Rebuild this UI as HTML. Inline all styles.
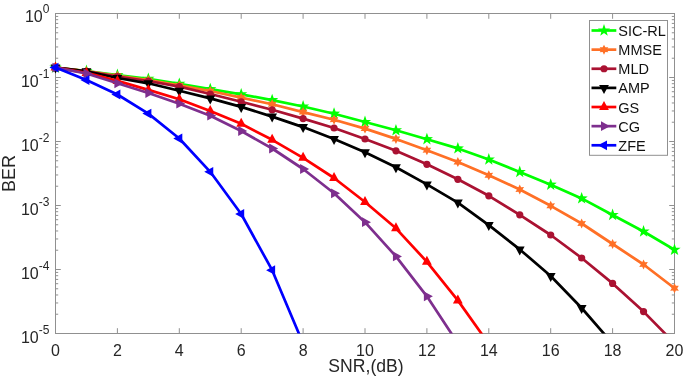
<!DOCTYPE html><html><head><meta charset="utf-8"><style>html,body{margin:0;padding:0;background:#fff;}svg{display:block;will-change:transform;}text{font-family:"Liberation Sans",sans-serif;fill:#262626;}</style></head><body>
<svg width="685" height="377" viewBox="0 0 685 377">
<defs><clipPath id="c"><rect x="55.5" y="13.5" width="619.0" height="320.0"/></clipPath></defs>
<rect width="685" height="377" fill="#fff"/>
<path d="M55.50 333.50V328.20M55.50 13.50V18.80M117.40 333.50V328.20M117.40 13.50V18.80M179.30 333.50V328.20M179.30 13.50V18.80M241.20 333.50V328.20M241.20 13.50V18.80M303.10 333.50V328.20M303.10 13.50V18.80M365.00 333.50V328.20M365.00 13.50V18.80M426.90 333.50V328.20M426.90 13.50V18.80M488.80 333.50V328.20M488.80 13.50V18.80M550.70 333.50V328.20M550.70 13.50V18.80M612.60 333.50V328.20M612.60 13.50V18.80M674.50 333.50V328.20M674.50 13.50V18.80M55.50 13.50H60.80M674.50 13.50H669.20M55.50 77.50H60.80M674.50 77.50H669.20M55.50 141.50H60.80M674.50 141.50H669.20M55.50 205.50H60.80M674.50 205.50H669.20M55.50 269.50H60.80M674.50 269.50H669.20M55.50 333.50H60.80M674.50 333.50H669.20M55.50 58.23H58.20M674.50 58.23H671.80M55.50 46.96H58.20M674.50 46.96H671.80M55.50 38.97H58.20M674.50 38.97H671.80M55.50 32.77H58.20M674.50 32.77H671.80M55.50 27.70H58.20M674.50 27.70H671.80M55.50 23.41H58.20M674.50 23.41H671.80M55.50 19.70H58.20M674.50 19.70H671.80M55.50 16.43H58.20M674.50 16.43H671.80M55.50 122.23H58.20M674.50 122.23H671.80M55.50 110.96H58.20M674.50 110.96H671.80M55.50 102.97H58.20M674.50 102.97H671.80M55.50 96.77H58.20M674.50 96.77H671.80M55.50 91.70H58.20M674.50 91.70H671.80M55.50 87.41H58.20M674.50 87.41H671.80M55.50 83.70H58.20M674.50 83.70H671.80M55.50 80.43H58.20M674.50 80.43H671.80M55.50 186.23H58.20M674.50 186.23H671.80M55.50 174.96H58.20M674.50 174.96H671.80M55.50 166.97H58.20M674.50 166.97H671.80M55.50 160.77H58.20M674.50 160.77H671.80M55.50 155.70H58.20M674.50 155.70H671.80M55.50 151.41H58.20M674.50 151.41H671.80M55.50 147.70H58.20M674.50 147.70H671.80M55.50 144.43H58.20M674.50 144.43H671.80M55.50 250.23H58.20M674.50 250.23H671.80M55.50 238.96H58.20M674.50 238.96H671.80M55.50 230.97H58.20M674.50 230.97H671.80M55.50 224.77H58.20M674.50 224.77H671.80M55.50 219.70H58.20M674.50 219.70H671.80M55.50 215.41H58.20M674.50 215.41H671.80M55.50 211.70H58.20M674.50 211.70H671.80M55.50 208.43H58.20M674.50 208.43H671.80M55.50 314.23H58.20M674.50 314.23H671.80M55.50 302.96H58.20M674.50 302.96H671.80M55.50 294.97H58.20M674.50 294.97H671.80M55.50 288.77H58.20M674.50 288.77H671.80M55.50 283.70H58.20M674.50 283.70H671.80M55.50 279.41H58.20M674.50 279.41H671.80M55.50 275.70H58.20M674.50 275.70H671.80M55.50 272.43H58.20M674.50 272.43H671.80" stroke="#909090" stroke-width="1" fill="none"/>
<rect x="55.5" y="13.5" width="619.0" height="320.0" stroke="#909090" stroke-width="1" fill="none"/>
<text x="55.50" y="356" font-size="16" text-anchor="middle">0</text>
<text x="117.40" y="356" font-size="16" text-anchor="middle">2</text>
<text x="179.30" y="356" font-size="16" text-anchor="middle">4</text>
<text x="241.20" y="356" font-size="16" text-anchor="middle">6</text>
<text x="303.10" y="356" font-size="16" text-anchor="middle">8</text>
<text x="365.00" y="356" font-size="16" text-anchor="middle">10</text>
<text x="426.90" y="356" font-size="16" text-anchor="middle">12</text>
<text x="488.80" y="356" font-size="16" text-anchor="middle">14</text>
<text x="550.70" y="356" font-size="16" text-anchor="middle">16</text>
<text x="612.60" y="356" font-size="16" text-anchor="middle">18</text>
<text x="674.50" y="356" font-size="16" text-anchor="middle">20</text>
<text x="49.4" y="21.70" font-size="16" text-anchor="end">10<tspan font-size="12" dy="-8.7">0</tspan></text>
<text x="49.4" y="86.50" font-size="16" text-anchor="end">10<tspan font-size="12" dy="-8.7">-1</tspan></text>
<text x="49.4" y="150.50" font-size="16" text-anchor="end">10<tspan font-size="12" dy="-8.7">-2</tspan></text>
<text x="49.4" y="214.50" font-size="16" text-anchor="end">10<tspan font-size="12" dy="-8.7">-3</tspan></text>
<text x="49.4" y="278.50" font-size="16" text-anchor="end">10<tspan font-size="12" dy="-8.7">-4</tspan></text>
<text x="49.4" y="342.50" font-size="16" text-anchor="end">10<tspan font-size="12" dy="-8.7">-5</tspan></text>
<text x="366" y="372" font-size="17.6" text-anchor="middle">SNR,(dB)</text>
<text transform="translate(15.3,173.6) rotate(-90)" font-size="18" text-anchor="middle">BER</text>
<polyline clip-path="url(#c)" points="55.50,67.60 86.45,71.00 117.40,75.00 148.35,78.80 179.30,83.80 210.25,89.20 241.20,94.30 272.15,100.10 303.10,106.50 334.05,113.70 365.00,122.00 395.95,130.30 426.90,139.20 457.85,148.40 488.80,159.50 519.75,172.00 550.70,184.70 581.65,198.40 612.60,215.00 643.55,231.50 674.50,249.80" fill="none" stroke="#00ff00" stroke-width="2.7" stroke-linejoin="round"/>
<polygon points="55.50,61.20 57.03,65.50 61.59,65.62 57.97,68.40 59.26,72.78 55.50,70.20 51.74,72.78 53.03,68.40 49.41,65.62 53.97,65.50" fill="#00ff00"/>
<polygon points="86.45,64.60 87.98,68.90 92.54,69.02 88.92,71.80 90.21,76.18 86.45,73.60 82.69,76.18 83.98,71.80 80.36,69.02 84.92,68.90" fill="#00ff00"/>
<polygon points="117.40,68.60 118.93,72.90 123.49,73.02 119.87,75.80 121.16,80.18 117.40,77.60 113.64,80.18 114.93,75.80 111.31,73.02 115.87,72.90" fill="#00ff00"/>
<polygon points="148.35,72.40 149.88,76.70 154.44,76.82 150.82,79.60 152.11,83.98 148.35,81.40 144.59,83.98 145.88,79.60 142.26,76.82 146.82,76.70" fill="#00ff00"/>
<polygon points="179.30,77.40 180.83,81.70 185.39,81.82 181.77,84.60 183.06,88.98 179.30,86.40 175.54,88.98 176.83,84.60 173.21,81.82 177.77,81.70" fill="#00ff00"/>
<polygon points="210.25,82.80 211.78,87.10 216.34,87.22 212.72,90.00 214.01,94.38 210.25,91.80 206.49,94.38 207.78,90.00 204.16,87.22 208.72,87.10" fill="#00ff00"/>
<polygon points="241.20,87.90 242.73,92.20 247.29,92.32 243.67,95.10 244.96,99.48 241.20,96.90 237.44,99.48 238.73,95.10 235.11,92.32 239.67,92.20" fill="#00ff00"/>
<polygon points="272.15,93.70 273.68,98.00 278.24,98.12 274.62,100.90 275.91,105.28 272.15,102.70 268.39,105.28 269.68,100.90 266.06,98.12 270.62,98.00" fill="#00ff00"/>
<polygon points="303.10,100.10 304.63,104.40 309.19,104.52 305.57,107.30 306.86,111.68 303.10,109.10 299.34,111.68 300.63,107.30 297.01,104.52 301.57,104.40" fill="#00ff00"/>
<polygon points="334.05,107.30 335.58,111.60 340.14,111.72 336.52,114.50 337.81,118.88 334.05,116.30 330.29,118.88 331.58,114.50 327.96,111.72 332.52,111.60" fill="#00ff00"/>
<polygon points="365.00,115.60 366.53,119.90 371.09,120.02 367.47,122.80 368.76,127.18 365.00,124.60 361.24,127.18 362.53,122.80 358.91,120.02 363.47,119.90" fill="#00ff00"/>
<polygon points="395.95,123.90 397.48,128.20 402.04,128.32 398.42,131.10 399.71,135.48 395.95,132.90 392.19,135.48 393.48,131.10 389.86,128.32 394.42,128.20" fill="#00ff00"/>
<polygon points="426.90,132.80 428.43,137.10 432.99,137.22 429.37,140.00 430.66,144.38 426.90,141.80 423.14,144.38 424.43,140.00 420.81,137.22 425.37,137.10" fill="#00ff00"/>
<polygon points="457.85,142.00 459.38,146.30 463.94,146.42 460.32,149.20 461.61,153.58 457.85,151.00 454.09,153.58 455.38,149.20 451.76,146.42 456.32,146.30" fill="#00ff00"/>
<polygon points="488.80,153.10 490.33,157.40 494.89,157.52 491.27,160.30 492.56,164.68 488.80,162.10 485.04,164.68 486.33,160.30 482.71,157.52 487.27,157.40" fill="#00ff00"/>
<polygon points="519.75,165.60 521.28,169.90 525.84,170.02 522.22,172.80 523.51,177.18 519.75,174.60 515.99,177.18 517.28,172.80 513.66,170.02 518.22,169.90" fill="#00ff00"/>
<polygon points="550.70,178.30 552.23,182.60 556.79,182.72 553.17,185.50 554.46,189.88 550.70,187.30 546.94,189.88 548.23,185.50 544.61,182.72 549.17,182.60" fill="#00ff00"/>
<polygon points="581.65,192.00 583.18,196.30 587.74,196.42 584.12,199.20 585.41,203.58 581.65,201.00 577.89,203.58 579.18,199.20 575.56,196.42 580.12,196.30" fill="#00ff00"/>
<polygon points="612.60,208.60 614.13,212.90 618.69,213.02 615.07,215.80 616.36,220.18 612.60,217.60 608.84,220.18 610.13,215.80 606.51,213.02 611.07,212.90" fill="#00ff00"/>
<polygon points="643.55,225.10 645.08,229.40 649.64,229.52 646.02,232.30 647.31,236.68 643.55,234.10 639.79,236.68 641.08,232.30 637.46,229.52 642.02,229.40" fill="#00ff00"/>
<polygon points="674.50,243.40 676.03,247.70 680.59,247.82 676.97,250.60 678.26,254.98 674.50,252.40 670.74,254.98 672.03,250.60 668.41,247.82 672.97,247.70" fill="#00ff00"/>
<polyline clip-path="url(#c)" points="55.50,67.60 86.45,71.20 117.40,75.80 148.35,80.00 179.30,85.30 210.25,91.00 241.20,97.60 272.15,104.20 303.10,112.10 334.05,119.70 365.00,128.60 395.95,138.90 426.90,150.20 457.85,162.10 488.80,175.30 519.75,189.50 550.70,205.80 581.65,223.50 612.60,244.00 643.55,264.50 674.50,288.20" fill="none" stroke="#ff7026" stroke-width="2.7" stroke-linejoin="round"/>
<polygon points="55.50,62.60 56.85,65.26 59.83,65.10 58.20,67.60 59.83,70.10 56.85,69.94 55.50,72.60 54.15,69.94 51.17,70.10 52.80,67.60 51.17,65.10 54.15,65.26" fill="#ff7026"/>
<polygon points="86.45,66.20 87.80,68.86 90.78,68.70 89.15,71.20 90.78,73.70 87.80,73.54 86.45,76.20 85.10,73.54 82.12,73.70 83.75,71.20 82.12,68.70 85.10,68.86" fill="#ff7026"/>
<polygon points="117.40,70.80 118.75,73.46 121.73,73.30 120.10,75.80 121.73,78.30 118.75,78.14 117.40,80.80 116.05,78.14 113.07,78.30 114.70,75.80 113.07,73.30 116.05,73.46" fill="#ff7026"/>
<polygon points="148.35,75.00 149.70,77.66 152.68,77.50 151.05,80.00 152.68,82.50 149.70,82.34 148.35,85.00 147.00,82.34 144.02,82.50 145.65,80.00 144.02,77.50 147.00,77.66" fill="#ff7026"/>
<polygon points="179.30,80.30 180.65,82.96 183.63,82.80 182.00,85.30 183.63,87.80 180.65,87.64 179.30,90.30 177.95,87.64 174.97,87.80 176.60,85.30 174.97,82.80 177.95,82.96" fill="#ff7026"/>
<polygon points="210.25,86.00 211.60,88.66 214.58,88.50 212.95,91.00 214.58,93.50 211.60,93.34 210.25,96.00 208.90,93.34 205.92,93.50 207.55,91.00 205.92,88.50 208.90,88.66" fill="#ff7026"/>
<polygon points="241.20,92.60 242.55,95.26 245.53,95.10 243.90,97.60 245.53,100.10 242.55,99.94 241.20,102.60 239.85,99.94 236.87,100.10 238.50,97.60 236.87,95.10 239.85,95.26" fill="#ff7026"/>
<polygon points="272.15,99.20 273.50,101.86 276.48,101.70 274.85,104.20 276.48,106.70 273.50,106.54 272.15,109.20 270.80,106.54 267.82,106.70 269.45,104.20 267.82,101.70 270.80,101.86" fill="#ff7026"/>
<polygon points="303.10,107.10 304.45,109.76 307.43,109.60 305.80,112.10 307.43,114.60 304.45,114.44 303.10,117.10 301.75,114.44 298.77,114.60 300.40,112.10 298.77,109.60 301.75,109.76" fill="#ff7026"/>
<polygon points="334.05,114.70 335.40,117.36 338.38,117.20 336.75,119.70 338.38,122.20 335.40,122.04 334.05,124.70 332.70,122.04 329.72,122.20 331.35,119.70 329.72,117.20 332.70,117.36" fill="#ff7026"/>
<polygon points="365.00,123.60 366.35,126.26 369.33,126.10 367.70,128.60 369.33,131.10 366.35,130.94 365.00,133.60 363.65,130.94 360.67,131.10 362.30,128.60 360.67,126.10 363.65,126.26" fill="#ff7026"/>
<polygon points="395.95,133.90 397.30,136.56 400.28,136.40 398.65,138.90 400.28,141.40 397.30,141.24 395.95,143.90 394.60,141.24 391.62,141.40 393.25,138.90 391.62,136.40 394.60,136.56" fill="#ff7026"/>
<polygon points="426.90,145.20 428.25,147.86 431.23,147.70 429.60,150.20 431.23,152.70 428.25,152.54 426.90,155.20 425.55,152.54 422.57,152.70 424.20,150.20 422.57,147.70 425.55,147.86" fill="#ff7026"/>
<polygon points="457.85,157.10 459.20,159.76 462.18,159.60 460.55,162.10 462.18,164.60 459.20,164.44 457.85,167.10 456.50,164.44 453.52,164.60 455.15,162.10 453.52,159.60 456.50,159.76" fill="#ff7026"/>
<polygon points="488.80,170.30 490.15,172.96 493.13,172.80 491.50,175.30 493.13,177.80 490.15,177.64 488.80,180.30 487.45,177.64 484.47,177.80 486.10,175.30 484.47,172.80 487.45,172.96" fill="#ff7026"/>
<polygon points="519.75,184.50 521.10,187.16 524.08,187.00 522.45,189.50 524.08,192.00 521.10,191.84 519.75,194.50 518.40,191.84 515.42,192.00 517.05,189.50 515.42,187.00 518.40,187.16" fill="#ff7026"/>
<polygon points="550.70,200.80 552.05,203.46 555.03,203.30 553.40,205.80 555.03,208.30 552.05,208.14 550.70,210.80 549.35,208.14 546.37,208.30 548.00,205.80 546.37,203.30 549.35,203.46" fill="#ff7026"/>
<polygon points="581.65,218.50 583.00,221.16 585.98,221.00 584.35,223.50 585.98,226.00 583.00,225.84 581.65,228.50 580.30,225.84 577.32,226.00 578.95,223.50 577.32,221.00 580.30,221.16" fill="#ff7026"/>
<polygon points="612.60,239.00 613.95,241.66 616.93,241.50 615.30,244.00 616.93,246.50 613.95,246.34 612.60,249.00 611.25,246.34 608.27,246.50 609.90,244.00 608.27,241.50 611.25,241.66" fill="#ff7026"/>
<polygon points="643.55,259.50 644.90,262.16 647.88,262.00 646.25,264.50 647.88,267.00 644.90,266.84 643.55,269.50 642.20,266.84 639.22,267.00 640.85,264.50 639.22,262.00 642.20,262.16" fill="#ff7026"/>
<polygon points="674.50,283.20 675.85,285.86 678.83,285.70 677.20,288.20 678.83,290.70 675.85,290.54 674.50,293.20 673.15,290.54 670.17,290.70 671.80,288.20 670.17,285.70 673.15,285.86" fill="#ff7026"/>
<polyline clip-path="url(#c)" points="55.50,67.60 86.45,71.40 117.40,76.50 148.35,81.00 179.30,86.60 210.25,94.00 241.20,101.80 272.15,109.80 303.10,118.60 334.05,128.00 365.00,139.00 395.95,150.80 426.90,164.30 457.85,179.30 488.80,195.80 519.75,214.80 550.70,235.00 581.65,258.00 612.60,283.40 643.55,311.60 674.50,343.20" fill="none" stroke="#aa1232" stroke-width="2.7" stroke-linejoin="round"/>
<circle cx="55.50" cy="67.60" r="3.6" fill="#aa1232"/>
<circle cx="86.45" cy="71.40" r="3.6" fill="#aa1232"/>
<circle cx="117.40" cy="76.50" r="3.6" fill="#aa1232"/>
<circle cx="148.35" cy="81.00" r="3.6" fill="#aa1232"/>
<circle cx="179.30" cy="86.60" r="3.6" fill="#aa1232"/>
<circle cx="210.25" cy="94.00" r="3.6" fill="#aa1232"/>
<circle cx="241.20" cy="101.80" r="3.6" fill="#aa1232"/>
<circle cx="272.15" cy="109.80" r="3.6" fill="#aa1232"/>
<circle cx="303.10" cy="118.60" r="3.6" fill="#aa1232"/>
<circle cx="334.05" cy="128.00" r="3.6" fill="#aa1232"/>
<circle cx="365.00" cy="139.00" r="3.6" fill="#aa1232"/>
<circle cx="395.95" cy="150.80" r="3.6" fill="#aa1232"/>
<circle cx="426.90" cy="164.30" r="3.6" fill="#aa1232"/>
<circle cx="457.85" cy="179.30" r="3.6" fill="#aa1232"/>
<circle cx="488.80" cy="195.80" r="3.6" fill="#aa1232"/>
<circle cx="519.75" cy="214.80" r="3.6" fill="#aa1232"/>
<circle cx="550.70" cy="235.00" r="3.6" fill="#aa1232"/>
<circle cx="581.65" cy="258.00" r="3.6" fill="#aa1232"/>
<circle cx="612.60" cy="283.40" r="3.6" fill="#aa1232"/>
<circle cx="643.55" cy="311.60" r="3.6" fill="#aa1232"/>
<polyline clip-path="url(#c)" points="55.50,67.60 86.45,71.30 117.40,78.00 148.35,83.30 179.30,90.80 210.25,98.40 241.20,106.90 272.15,116.60 303.10,127.10 334.05,139.00 365.00,152.20 395.95,167.20 426.90,184.40 457.85,202.60 488.80,225.10 519.75,249.40 550.70,276.00 581.65,308.00 612.60,343.60" fill="none" stroke="#000000" stroke-width="2.7" stroke-linejoin="round"/>
<polygon points="50.60,64.60 60.40,64.60 55.50,73.60" fill="#000000"/>
<polygon points="81.55,68.30 91.35,68.30 86.45,77.30" fill="#000000"/>
<polygon points="112.50,75.00 122.30,75.00 117.40,84.00" fill="#000000"/>
<polygon points="143.45,80.30 153.25,80.30 148.35,89.30" fill="#000000"/>
<polygon points="174.40,87.80 184.20,87.80 179.30,96.80" fill="#000000"/>
<polygon points="205.35,95.40 215.15,95.40 210.25,104.40" fill="#000000"/>
<polygon points="236.30,103.90 246.10,103.90 241.20,112.90" fill="#000000"/>
<polygon points="267.25,113.60 277.05,113.60 272.15,122.60" fill="#000000"/>
<polygon points="298.20,124.10 308.00,124.10 303.10,133.10" fill="#000000"/>
<polygon points="329.15,136.00 338.95,136.00 334.05,145.00" fill="#000000"/>
<polygon points="360.10,149.20 369.90,149.20 365.00,158.20" fill="#000000"/>
<polygon points="391.05,164.20 400.85,164.20 395.95,173.20" fill="#000000"/>
<polygon points="422.00,181.40 431.80,181.40 426.90,190.40" fill="#000000"/>
<polygon points="452.95,199.60 462.75,199.60 457.85,208.60" fill="#000000"/>
<polygon points="483.90,222.10 493.70,222.10 488.80,231.10" fill="#000000"/>
<polygon points="514.85,246.40 524.65,246.40 519.75,255.40" fill="#000000"/>
<polygon points="545.80,273.00 555.60,273.00 550.70,282.00" fill="#000000"/>
<polygon points="576.75,305.00 586.55,305.00 581.65,314.00" fill="#000000"/>
<polyline clip-path="url(#c)" points="55.50,67.60 86.45,72.90 117.40,80.90 148.35,89.90 179.30,99.20 210.25,111.10 241.20,123.80 272.15,139.80 303.10,157.80 334.05,178.00 365.00,202.00 395.95,228.30 426.90,261.80 457.85,300.40 488.80,343.90" fill="none" stroke="#ff0000" stroke-width="2.7" stroke-linejoin="round"/>
<polygon points="50.60,70.60 60.40,70.60 55.50,61.60" fill="#ff0000"/>
<polygon points="81.55,75.90 91.35,75.90 86.45,66.90" fill="#ff0000"/>
<polygon points="112.50,83.90 122.30,83.90 117.40,74.90" fill="#ff0000"/>
<polygon points="143.45,92.90 153.25,92.90 148.35,83.90" fill="#ff0000"/>
<polygon points="174.40,102.20 184.20,102.20 179.30,93.20" fill="#ff0000"/>
<polygon points="205.35,114.10 215.15,114.10 210.25,105.10" fill="#ff0000"/>
<polygon points="236.30,126.80 246.10,126.80 241.20,117.80" fill="#ff0000"/>
<polygon points="267.25,142.80 277.05,142.80 272.15,133.80" fill="#ff0000"/>
<polygon points="298.20,160.80 308.00,160.80 303.10,151.80" fill="#ff0000"/>
<polygon points="329.15,181.00 338.95,181.00 334.05,172.00" fill="#ff0000"/>
<polygon points="360.10,205.00 369.90,205.00 365.00,196.00" fill="#ff0000"/>
<polygon points="391.05,231.30 400.85,231.30 395.95,222.30" fill="#ff0000"/>
<polygon points="422.00,264.80 431.80,264.80 426.90,255.80" fill="#ff0000"/>
<polygon points="452.95,303.40 462.75,303.40 457.85,294.40" fill="#ff0000"/>
<polyline clip-path="url(#c)" points="55.50,67.60 86.45,73.50 117.40,83.30 148.35,93.00 179.30,103.70 210.25,115.70 241.20,131.00 272.15,148.50 303.10,169.00 334.05,193.30 365.00,222.20 395.95,256.40 426.90,296.30 457.85,343.30" fill="none" stroke="#7e2f8e" stroke-width="2.7" stroke-linejoin="round"/>
<polygon points="52.50,62.70 52.50,72.50 61.50,67.60" fill="#7e2f8e"/>
<polygon points="83.45,68.60 83.45,78.40 92.45,73.50" fill="#7e2f8e"/>
<polygon points="114.40,78.40 114.40,88.20 123.40,83.30" fill="#7e2f8e"/>
<polygon points="145.35,88.10 145.35,97.90 154.35,93.00" fill="#7e2f8e"/>
<polygon points="176.30,98.80 176.30,108.60 185.30,103.70" fill="#7e2f8e"/>
<polygon points="207.25,110.80 207.25,120.60 216.25,115.70" fill="#7e2f8e"/>
<polygon points="238.20,126.10 238.20,135.90 247.20,131.00" fill="#7e2f8e"/>
<polygon points="269.15,143.60 269.15,153.40 278.15,148.50" fill="#7e2f8e"/>
<polygon points="300.10,164.10 300.10,173.90 309.10,169.00" fill="#7e2f8e"/>
<polygon points="331.05,188.40 331.05,198.20 340.05,193.30" fill="#7e2f8e"/>
<polygon points="362.00,217.30 362.00,227.10 371.00,222.20" fill="#7e2f8e"/>
<polygon points="392.95,251.50 392.95,261.30 401.95,256.40" fill="#7e2f8e"/>
<polygon points="423.90,291.40 423.90,301.20 432.90,296.30" fill="#7e2f8e"/>
<polyline clip-path="url(#c)" points="55.50,67.60 86.45,80.00 117.40,94.50 148.35,113.60 179.30,138.50 210.25,171.80 241.20,214.00 272.15,270.20 303.10,343.50" fill="none" stroke="#0000ff" stroke-width="2.7" stroke-linejoin="round"/>
<polygon points="58.50,62.70 58.50,72.50 49.50,67.60" fill="#0000ff"/>
<polygon points="89.45,75.10 89.45,84.90 80.45,80.00" fill="#0000ff"/>
<polygon points="120.40,89.60 120.40,99.40 111.40,94.50" fill="#0000ff"/>
<polygon points="151.35,108.70 151.35,118.50 142.35,113.60" fill="#0000ff"/>
<polygon points="182.30,133.60 182.30,143.40 173.30,138.50" fill="#0000ff"/>
<polygon points="213.25,166.90 213.25,176.70 204.25,171.80" fill="#0000ff"/>
<polygon points="244.20,209.10 244.20,218.90 235.20,214.00" fill="#0000ff"/>
<polygon points="275.15,265.30 275.15,275.10 266.15,270.20" fill="#0000ff"/>
<rect x="589.5" y="20.5" width="78.0" height="134.8" fill="#fff" stroke="#909090" stroke-width="1"/>
<line x1="591.5" y1="30.50" x2="616.3" y2="30.50" stroke="#00ff00" stroke-width="2.7"/>
<polygon points="604.00,24.10 605.53,28.40 610.09,28.52 606.47,31.30 607.76,35.68 604.00,33.10 600.24,35.68 601.53,31.30 597.91,28.52 602.47,28.40" fill="#00ff00"/>
<text x="618.3" y="36.10" font-size="14.5" style="fill:#111">SIC-RL</text>
<line x1="591.5" y1="49.63" x2="616.3" y2="49.63" stroke="#ff7026" stroke-width="2.7"/>
<polygon points="604.00,44.63 605.35,47.29 608.33,47.13 606.70,49.63 608.33,52.13 605.35,51.97 604.00,54.63 602.65,51.97 599.67,52.13 601.30,49.63 599.67,47.13 602.65,47.29" fill="#ff7026"/>
<text x="618.3" y="55.23" font-size="14.5" style="fill:#111">MMSE</text>
<line x1="591.5" y1="68.76" x2="616.3" y2="68.76" stroke="#aa1232" stroke-width="2.7"/>
<circle cx="604.00" cy="68.76" r="3.6" fill="#aa1232"/>
<text x="618.3" y="74.36" font-size="14.5" style="fill:#111">MLD</text>
<line x1="591.5" y1="87.89" x2="616.3" y2="87.89" stroke="#000000" stroke-width="2.7"/>
<polygon points="599.10,84.89 608.90,84.89 604.00,93.89" fill="#000000"/>
<text x="618.3" y="93.49" font-size="14.5" style="fill:#111">AMP</text>
<line x1="591.5" y1="107.02" x2="616.3" y2="107.02" stroke="#ff0000" stroke-width="2.7"/>
<polygon points="599.10,110.02 608.90,110.02 604.00,101.02" fill="#ff0000"/>
<text x="618.3" y="112.62" font-size="14.5" style="fill:#111">GS</text>
<line x1="591.5" y1="126.15" x2="616.3" y2="126.15" stroke="#7e2f8e" stroke-width="2.7"/>
<polygon points="601.00,121.25 601.00,131.05 610.00,126.15" fill="#7e2f8e"/>
<text x="618.3" y="131.75" font-size="14.5" style="fill:#111">CG</text>
<line x1="591.5" y1="145.28" x2="616.3" y2="145.28" stroke="#0000ff" stroke-width="2.7"/>
<polygon points="607.00,140.38 607.00,150.18 598.00,145.28" fill="#0000ff"/>
<text x="618.3" y="150.88" font-size="14.5" style="fill:#111">ZFE</text>
</svg></body></html>
